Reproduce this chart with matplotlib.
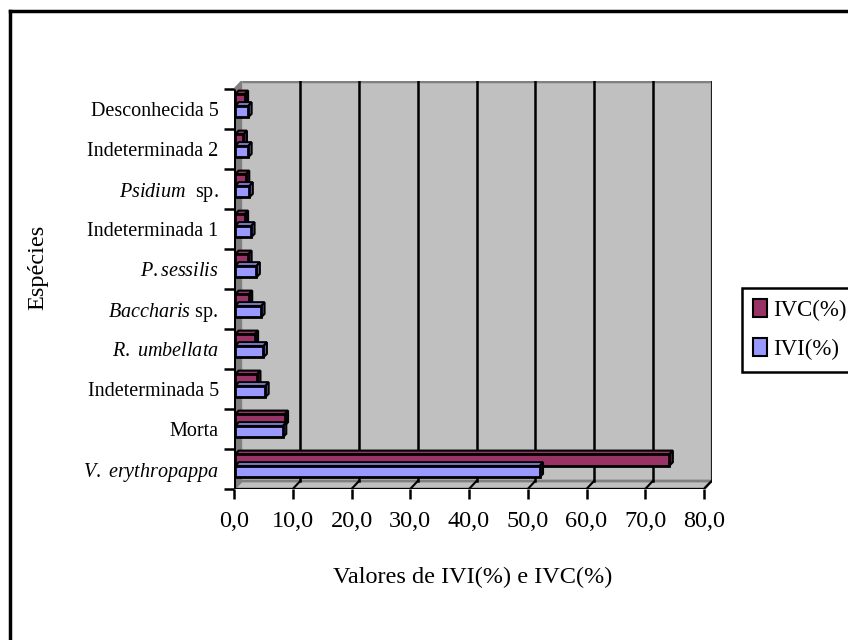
import numpy as np
import matplotlib.pyplot as plt
from matplotlib.patches import Polygon, Rectangle, Patch
from matplotlib.lines import Line2D

plt.rcParams['font.family'] = ['Liberation Serif', 'DejaVu Serif']
plt.rcParams['mathtext.fontset'] = 'custom'
plt.rcParams['mathtext.rm'] = 'Liberation Serif'
plt.rcParams['mathtext.it'] = 'Liberation Serif:italic'

# species, bottom to top
species = [r'$\mathit{V.\ erythropappa}$', 'Morta', 'Indeterminada 5',
           r'$\mathit{R.\ umbellata}$', r'$\mathit{Baccharis}$ sp.',
           r'$\mathit{P.sessilis}$', 'Indeterminada 1', r'$\mathit{Psidium}$  sp.',
           'Indeterminada 2', 'Desconhecida 5']
ivc = [73.9, 8.4, 3.7, 3.3, 2.3, 2.2, 1.6, 1.8, 1.4, 1.6]
ivi = [51.8, 8.1, 5.1, 4.8, 4.4, 3.6, 2.7, 2.4, 2.2, 2.2]
xticks = [0, 10, 20, 30, 40, 50, 60, 70, 80]
xlabels = ['0,0', '10,0', '20,0', '30,0', '40,0', '50,0', '60,0', '70,0', '80,0']

c_ivc = '#993366'
c_ivi = '#9999FF'
c_ivc_side = '#5e1f3f'
c_ivi_side = '#6666bb'

W, H = 848, 640
fig = plt.figure(figsize=(W / 100, H / 100), dpi=100)

# wall depth (data units)
n = len(species)
xmax = 80
dx = 7.5 / 5.875
dy = 0.2
left, right, top, bot = 234, 711.5, 81, 489
ax = fig.add_axes([left / W, (H - bot) / H, (right - left) / W, (bot - top) / H])
ax.set_xlim(0, xmax + dx)
ax.set_ylim(0, n + dy)
for s in ax.spines.values():
    s.set_visible(False)

# walls
ax.add_patch(Polygon([(dx, dy), (xmax + dx, dy), (xmax + dx, n + dy), (dx, n + dy)],
                     closed=True, fc='#c0c0c0', ec='none', zorder=0))
ax.plot([dx, xmax + dx, xmax + dx], [n + dy, n + dy, dy], color='#808080', lw=2.5,
        zorder=1, solid_capstyle='butt')
ax.add_patch(Polygon([(0, 0), (dx, dy), (dx, n + dy), (0, n)],
                     closed=True, fc='#808080', ec='#808080', lw=1, zorder=1))
ax.add_patch(Polygon([(0, 0), (xmax, 0), (xmax + dx, dy), (dx, dy)],
                     closed=True, fc='#c0c0c0', ec='#808080', lw=2, zorder=1))
for v in xticks[1:]:
    ax.plot([v + dx, v + dx], [dy, n + dy], color='black', lw=1.8, zorder=2)
    ax.plot([v, v + dx], [0, dy], color='black', lw=1.5, zorder=2)

# axis lines
ax.plot([0, 0], [0, n], color='black', lw=2.2, zorder=20, solid_capstyle='butt')
ax.plot([0, xmax], [0, 0], color='black', lw=2.2, zorder=20, solid_capstyle='butt')

# 3D bars
bdx = 0.6
bdy = 0.09
bh = 0.29


def bar3d(x0, y0, w, h, fc, side, z):
    ax.add_patch(Polygon([(x0 + w, y0), (x0 + w + bdx, y0 + bdy),
                          (x0 + w + bdx, y0 + h + bdy), (x0 + w, y0 + h)],
                         closed=True, fc=side, ec='black', lw=1.5, zorder=z))
    ax.add_patch(Polygon([(x0, y0 + h), (x0 + w, y0 + h),
                          (x0 + w + bdx, y0 + h + bdy), (x0 + bdx, y0 + h + bdy)],
                         closed=True, fc=fc, ec='black', lw=1.5, zorder=z))
    ax.add_patch(Rectangle((x0, y0), w, h, fc=fc, ec='black', lw=2, zorder=z))


z = 5
for i in range(n - 1, -1, -1):
    bar3d(0.2, i + 0.29 + bh, ivc[i], bh, c_ivc, c_ivc_side, z)
    z += 1
    bar3d(0.2, i + 0.29, ivi[i], bh, c_ivi, c_ivi_side, z)
    z += 1

# ticks
ax.set_xticks(xticks)
ax.set_xticklabels(xlabels, fontsize=17.5)
ax.tick_params(axis='x', direction='out', length=7, width=1.8, pad=9)
ax.set_yticks(np.arange(n + 1))
ax.set_yticklabels([])
ax.tick_params(axis='y', which='major', direction='out', length=7, width=1.8)
ax.set_yticks(np.arange(n) + 0.5, minor=True)
ax.set_yticklabels(species, minor=True, fontsize=14.5)
ax.tick_params(axis='y', which='minor', length=0, pad=11)

ax.set_xlabel('Valores de IVI(%) e IVC(%)', fontsize=17.5, labelpad=25)
fig.text(38 / W, 1 - 267 / H, 'Espécies', rotation=90, fontsize=17.5,
         ha='center', va='center')

# legend
handles = [Patch(fc=c_ivc, ec='black', lw=1.5), Patch(fc=c_ivi, ec='black', lw=1.5)]
leg = fig.legend(handles, ['IVC(%)', 'IVI(%)'], loc='upper left',
                 bbox_to_anchor=(742 / W, 1 - 288 / H), fontsize=16.5,
                 frameon=True, fancybox=False, edgecolor='black', framealpha=1,
                 handlelength=0.6, handleheight=0.8, handletextpad=0.25,
                 borderpad=0.5, labelspacing=0.75, borderaxespad=0)
leg.get_frame().set_linewidth(1.8)

# outer frame
fig.add_artist(Line2D([10 / W, 10 / W], [0, 1 - 11 / H], color='black', lw=2.5))
fig.add_artist(Line2D([10 / W, 1], [1 - 11 / H, 1 - 11 / H], color='black', lw=2.5))

fig.savefig('out.png', dpi=100)
